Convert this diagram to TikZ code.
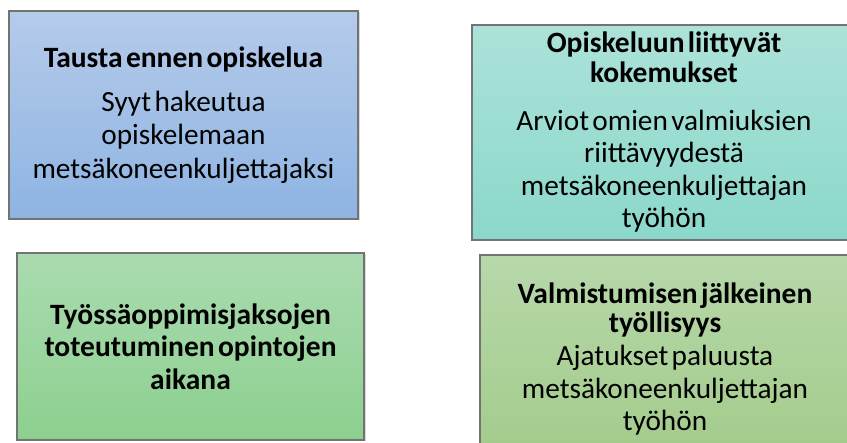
\documentclass[tikz,border=0pt]{standalone}
\usepackage{fontspec}
\setmainfont{Carlito}[WordSpace=1.3]
\usetikzlibrary{shadows}

\definecolor{bluetop}{RGB}{181,203,234}
\definecolor{bluebot}{RGB}{142,180,227}
\definecolor{aquatop}{RGB}{172,226,217}
\definecolor{aquabot}{RGB}{139,216,202}
\definecolor{greentop}{RGB}{170,219,176}
\definecolor{greenbot}{RGB}{140,208,143}
\definecolor{olivetop}{RGB}{183,216,170}
\definecolor{olivebot}{RGB}{163,203,138}

\newcommand{\hdr}[2][30]{{\bfseries\fontsize{29.5}{#1}\selectfont #2\par}}
\newcommand{\txt}[2][33.5]{{\fontsize{29.3}{#1}\selectfont #2\par}}

\begin{document}
\begin{tikzpicture}[x=1pt,y=-1pt]
       \tikzstyle{box}=[draw=black!55, line width=1.2pt, align=center, inner sep=0pt,
                        drop shadow={shadow xshift=1.5pt, shadow yshift=-1.5pt, opacity=0.3}]

       \useasboundingbox (0,0) rectangle (847,443);

       \node[box, top color=bluetop, bottom color=bluebot,
             minimum width=349pt, minimum height=208pt, text width=345pt]
             (tausta) at (183.5,115)
             {\hdr{Tausta ennen opiskelua}\vspace{10.5pt}
              \txt{Syyt hakeutua\\opiskelemaan\\metsäkoneenkuljettajaksi}};

       \node[box, top color=aquatop, bottom color=aquabot,
             minimum width=384pt, minimum height=215pt, text width=375pt]
             (kokemus) at (664,132.5)
             {\hdr{Opiskeluun liittyvät\\kokemukset}\vspace{15pt}
              \txt[32.5]{Arviot omien valmiuksien\\riittävyydestä\\metsäkoneenkuljettajan\\työhön}};

       \node[box, top color=greentop, bottom color=greenbot,
             minimum width=347pt, minimum height=187pt, text width=340pt]
             (tyossa) at (190.5,346.5)
             {\hdr[32.5]{Työssäoppimisjaksojen\\toteutuminen opintojen\\aikana}};

       \node[box, top color=olivetop, bottom color=olivebot,
             minimum width=370pt, minimum height=208pt, text width=365pt]
             (valmis) at (665,359)
             {\hdr[29]{Valmistumisen jälkeinen\\työllisyys}\vspace{1pt}
              \txt[32.5]{Ajatukset paluusta\\metsäkoneenkuljettajan\\työhön}};
\end{tikzpicture}
\end{document}
